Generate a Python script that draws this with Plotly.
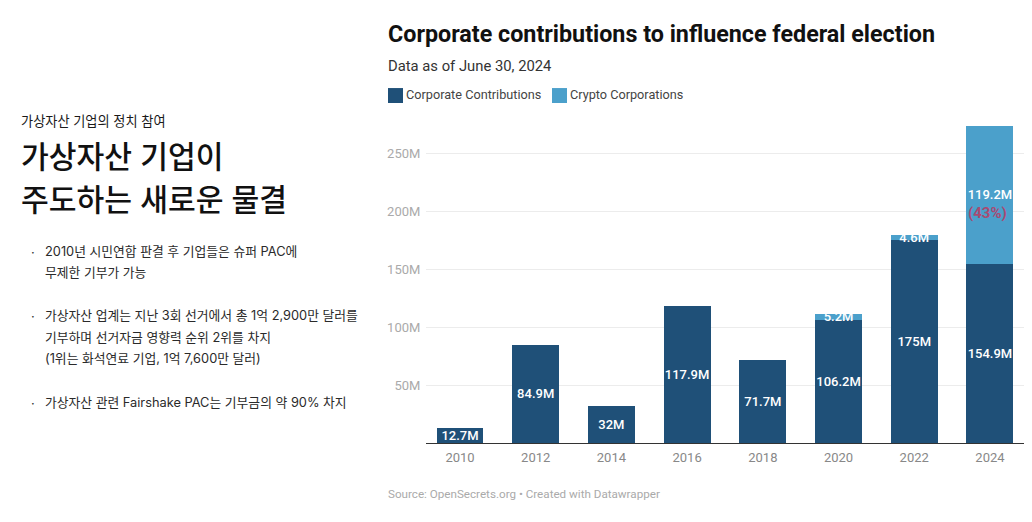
import plotly.graph_objects as go

WIDTH, HEIGHT = 1032, 522
years = ["2010", "2012", "2014", "2016", "2018", "2020", "2022", "2024"]
corporate = [12.7, 84.9, 32, 117.9, 71.7, 106.2, 175, 154.9]
crypto = [None, None, None, None, None, 5.2, 4.6, 119.2]
corporate_labels = ["12.7M", "84.9M", "32M", "117.9M", "71.7M", "106.2M", "175M", "154.9M"]
crypto_labels = ["", "", "", "", "", "5.2M", "4.6M", "119.2M"]
y_ticks = [50, 100, 150, 200, 250]
y_tick_labels = ["50M", "100M", "150M", "200M", "250M"]
series_names = ["Corporate Contributions", "Crypto Corporations"]
NAVY, BLUE = "#1F5078", "#4BA0CB"

title = "Corporate contributions to influence federal election"
subtitle = "Data as of June 30, 2024"
source = "Source: OpenSecrets.org • Created with Datawrapper"
kicker = "가상자산 기업의 정치 참여"
headline = ["가상자산 기업이", "주도하는 새로운 물결"]
bullets = [
    ["2010년 시민연합 판결 후 기업들은 슈퍼 PAC에", "무제한 기부가 가능"],
    ["가상자산 업계는 지난 3회 선거에서 총 1억 2,900만 달러를", "기부하며 선거자금 영향력 순위 2위를 차지", "(1위는 화석연료 기업, 1억 7,600만 달러)"],
    ["가상자산 관련 Fairshake PAC는 기부금의 약 90% 차지"],
]
bullet_line_y = [[252, 273], [316, 338, 359], [403]]

L, R, T, B = 426, 1024, 120, 443.5
LATIN = "Roboto, 'Noto Sans CJK KR', sans-serif"
KOR = "Inter, 'Noto Sans CJK KR', sans-serif"

fig = go.Figure()
fig.add_bar(x=years, y=corporate, name=series_names[0], marker_color=NAVY, marker_line_width=0,
            text=corporate_labels, textposition="inside", insidetextanchor="middle",
            constraintext="none", textangle=0, cliponaxis=False,
            textfont=dict(family=LATIN, size=13, color="white", weight=500), showlegend=False)
fig.add_bar(x=years, y=crypto, name=series_names[1], marker_color=BLUE, marker_line_width=0,
            text=crypto_labels, textposition="inside", insidetextanchor="middle",
            constraintext="none", textangle=0, cliponaxis=False,
            textfont=dict(family=LATIN, size=13, color="white", weight=500), showlegend=False)

def px(x):
    return (x - L) / (R - L)

def py(y):
    return (B - y) / (B - T)

def text(x, y, s, size, color="#1a1a1a", family=KOR, weight=None, xanchor="left"):
    fig.add_annotation(xref="paper", yref="paper", x=px(x), y=py(y), text=s, showarrow=False,
                       xanchor=xanchor, yanchor="middle", align="left", borderpad=0, borderwidth=0,
                       font=dict(family=family, size=size, color=color, weight=weight))

text(388, 33.5, title, 23.3, "#111111", LATIN, 700)
text(388, 66, subtitle, 14.8, "#333333", LATIN)
text(406, 94.5, series_names[0], 12.7, "#444444", LATIN)
text(570, 94.5, series_names[1], 12.7, "#444444", LATIN)
text(388, 495, source, 11.65, "#aaaaaa", LATIN)

for x0, color in ((388, NAVY), (552, BLUE)):
    fig.add_shape(type="rect", xref="paper", yref="paper", x0=px(x0), x1=px(x0 + 15),
                  y0=py(88), y1=py(103), fillcolor=color, line_width=0)

text(21, 121, kicker, 13.2, "#1a1a1a")
text(21, 157, headline[0], 30.2, "#111111", KOR, 500)
text(21, 200, headline[1], 30.2, "#111111", KOR, 500)
for lines, ys in zip(bullets, bullet_line_y):
    text(31, ys[0], "·", 13, "#333333")
    for line, y in zip(lines, ys):
        text(45, y, line, 12.8, "#2a2a2a")

# category position of the 2024 bar; the note sits just under its 119.2M label
fig.add_annotation(xref="x", yref="y", x=years.index("2024"), y=198.7, xshift=-2, text="<b>(43%)</b>",
                   showarrow=False, yanchor="middle", font=dict(family=LATIN, size=15, color="#A94A72"))

fig.update_layout(
    width=WIDTH, height=HEIGHT, autosize=False, barmode="stack", bargap=0.38,
    margin=dict(l=L, r=WIDTH - R, t=T, b=HEIGHT - B, pad=0),
    paper_bgcolor="white", plot_bgcolor="white", showlegend=False,
    xaxis=dict(type="category", range=[-0.449, 7.45], showgrid=False, ticks="", showline=True,
               linecolor="#333333", linewidth=1,
               tickfont=dict(family=LATIN, size=13, color="#888888"), ticklabelstandoff=2),
    yaxis=dict(range=[0, (B - T) / 1.16], tickvals=y_ticks, ticktext=y_tick_labels,
               showgrid=True, gridcolor="#ECECEC", gridwidth=1, zeroline=False, showline=False,
               ticks="outside", ticklen=2, tickcolor="rgba(0,0,0,0)",
               tickfont=dict(family=LATIN, size=13, color="#aaaaaa")),
)
fig.write_html("out.html", config={"displayModeBar": False},
               post_script="document.body.style.margin='0';document.documentElement.style.overflow='hidden';")
